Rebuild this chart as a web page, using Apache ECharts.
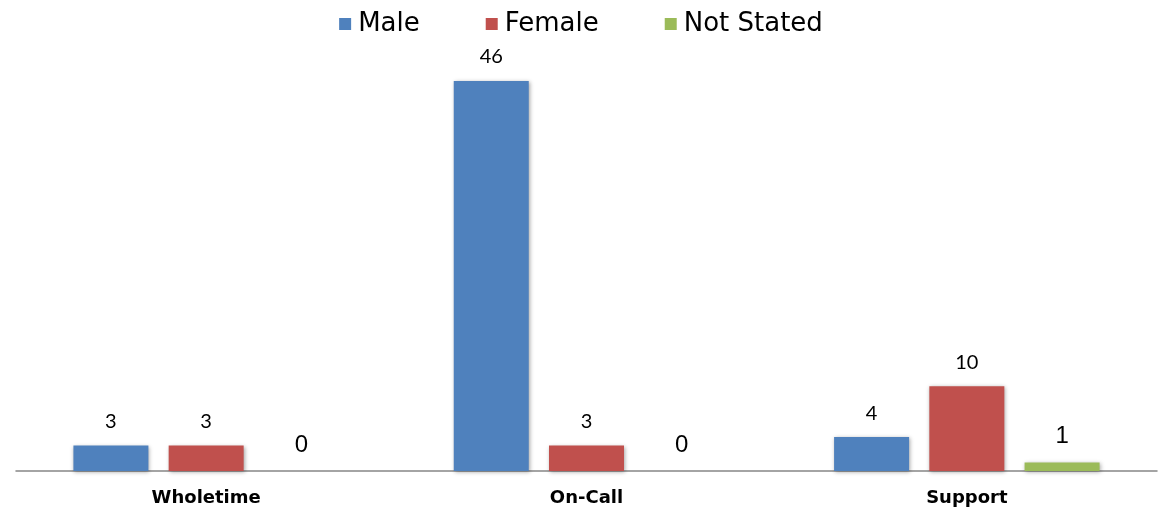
<!DOCTYPE html>
<html>
<head>
<meta charset="utf-8">
<script src="https://cdn.jsdelivr.net/npm/echarts@6/dist/echarts.min.js"></script>
<style>
  html, body { margin: 0; padding: 0; background: #ffffff; }
  #chart { width: 1162px; height: 510px; }
</style>
</head>
<body>
<div id="chart"></div>
<script>
// Staff by role and gender
const categories = ['Wholetime', 'On-Call', 'Support'];
const male = [3, 46, 4];
const female = [3, 3, 10];
const notStated = [0, 0, 1];

const colors = ['#4F81BD', '#C0504D', '#9BBB59'];
const numFont = 'Lato';

function barSeries(name, data, color, labelSize, labelFont, dist) {
  return {
    name: name,
    type: 'bar',
    data: data,
    barWidth: 75,
    barGap: '27%',
    itemStyle: {
      color: color,
      shadowBlur: 4,
      shadowColor: 'rgba(0,0,0,0.35)',
      shadowOffsetX: 1,
      shadowOffsetY: 1
    },
    label: {
      show: true,
      position: 'top',
      distance: dist,
      color: '#000',
      fontFamily: labelFont,
      fontSize: labelSize
    }
  };
}

const chart = echarts.init(document.getElementById('chart'));
chart.setOption({
  animation: false,
  legend: {
    top: 6,
    left: 'center',
    itemWidth: 12,
    itemHeight: 12,
    itemGap: 66,
    icon: 'rect',
    textStyle: { fontFamily: 'DejaVu Sans', fontSize: 26, color: '#000', padding: [0, 0, 0, 2] },
    data: ['Male', 'Female', 'Not Stated']
  },
  grid: { left: 16, right: 5, top: 47, bottom: 39, containLabel: false },
  xAxis: {
    type: 'category',
    data: categories,
    axisLine: { show: true, lineStyle: { color: '#868686', width: 1.5 } },
    axisTick: { show: false },
    axisLabel: {
      margin: 18,
      color: '#000',
      fontFamily: 'DejaVu Sans',
      fontWeight: 'bold',
      fontSize: 18
    }
  },
  yAxis: {
    type: 'value',
    min: 0,
    max: 50,
    show: false,
    splitLine: { show: false }
  },
  series: [
    barSeries('Male', male, colors[0], 20, numFont, 14),
    barSeries('Female', female, colors[1], 20, numFont, 14),
    barSeries('Not Stated', notStated, colors[2], 24, 'Liberation Sans', 14)
  ]
});
</script>
</body>
</html>
